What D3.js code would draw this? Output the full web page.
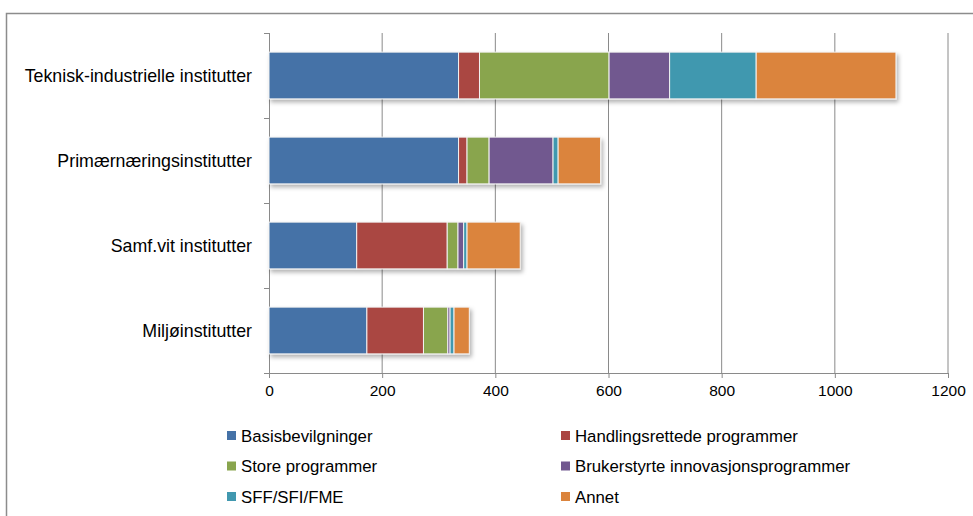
<!DOCTYPE html>
<html>
<head>
<meta charset="utf-8">
<script src="https://cdn.jsdelivr.net/npm/d3@7"></script>
<style>
  body { margin: 0; background: #fff; }
  svg text { font-family: "Liberation Sans", Arial, sans-serif; fill: #000; }
</style>
</head>
<body>
<svg id="chart" width="973" height="516"></svg>
<script>
// categories, top to bottom
const categories = [
  "Teknisk-industrielle institutter",
  "Primærnæringsinstitutter",
  "Samf.vit institutter",
  "Miljøinstitutter"
];

const seriesNames = [
  "Basisbevilgninger",
  "Handlingsrettede programmer",
  "Store programmer",
  "Brukerstyrte innovasjonsprogrammer",
  "SFF/SFI/FME",
  "Annet"
];

// values per series, in category order
const basis   = [335, 335, 155, 173];
const handl   = [37, 15, 160, 100];
const store   = [229, 39, 19, 43];
const bruker  = [107, 113, 10, 4];
const sff     = [153, 9, 6, 7];
const annet   = [247, 75, 94, 27];

const xTicks = [0, 200, 400, 600, 800, 1000, 1200];

const COLORS = ["#4572A7", "#AA4643", "#89A54E", "#71588F", "#4198AF", "#DB843D"];

const seriesValues = [basis, handl, store, bruker, sff, annet];

// table for d3.stack
const table = categories.map((c, i) => {
  const row = { cat: c };
  seriesNames.forEach((s, j) => { row[s] = seriesValues[j][i]; });
  return row;
});

const svg = d3.select("#chart");

// outer frame (cut off on the right and bottom)
svg.append("rect")
  .attr("x", 6.5).attr("y", 13.5)
  .attr("width", 1100).attr("height", 700)
  .attr("fill", "none")
  .attr("stroke", "#8c8c8c")
  .attr("stroke-width", 1.5);

const plot = { left: 269, right: 948, top: 33, bottom: 373 };

const x = d3.scaleLinear()
  .domain([0, 1200])
  .range([plot.left, plot.right]);

const y = d3.scaleBand()
  .domain(categories)
  .range([plot.top, plot.bottom])
  .paddingInner(0.45)
  .paddingOuter(0.225);

// drop shadow
const defs = svg.append("defs");
const f = defs.append("filter").attr("id", "shadow")
  .attr("x", "-5%").attr("y", "-20%").attr("width", "115%").attr("height", "150%");
f.append("feDropShadow")
  .attr("dx", 2).attr("dy", 3)
  .attr("stdDeviation", 2)
  .attr("flood-color", "#000")
  .attr("flood-opacity", 0.3);

// gridlines
svg.append("g")
  .selectAll("line")
  .data(xTicks.slice(1))
  .join("line")
  .attr("x1", d => x(d)).attr("x2", d => x(d))
  .attr("y1", plot.top).attr("y2", plot.bottom)
  .attr("stroke", "#8a8a8a")
  .attr("stroke-width", 1);

// x axis
const xAxis = svg.append("g")
  .attr("transform", `translate(0,${plot.bottom})`)
  .call(d3.axisBottom(x).tickValues(xTicks).tickFormat(d3.format("d"))
    .tickSize(5).tickSizeOuter(0).tickPadding(7));
xAxis.select(".domain").attr("stroke", "#8a8a8a").attr("d", `M${plot.left - 5},0.5H${plot.right}`);
xAxis.selectAll(".tick line").attr("stroke", "#8a8a8a");
xAxis.selectAll(".tick text")
  .style("font-size", "15.5px");

// category axis
const bandEdges = d3.range(categories.length + 1).map(i => plot.top + i * (plot.bottom - plot.top) / categories.length);
svg.append("line")
  .attr("x1", plot.left + 0.5).attr("x2", plot.left + 0.5)
  .attr("y1", plot.top).attr("y2", plot.bottom)
  .attr("stroke", "#8a8a8a");
svg.append("g")
  .selectAll("line")
  .data(bandEdges)
  .join("line")
  .attr("x1", plot.left - 5).attr("x2", plot.left)
  .attr("y1", d => d + 0.5).attr("y2", d => d + 0.5)
  .attr("stroke", "#8a8a8a");

svg.append("g")
  .selectAll("text")
  .data(categories)
  .join("text")
  .attr("x", plot.left - 17)
  .attr("y", d => y(d) + y.bandwidth() / 2)
  .attr("dy", "0.35em")
  .attr("text-anchor", "end")
  .style("font-size", "17.8px")
  .text(d => d);

// stacked bars
const stack = d3.stack().keys(seriesNames);
const stacked = stack(table);

const bars = svg.append("g").attr("filter", "url(#shadow)");
bars.selectAll("g")
  .data(stacked)
  .join("g")
  .attr("fill", (d, i) => COLORS[i])
  .selectAll("rect")
  .data(d => d)
  .join("rect")
  .attr("x", d => x(d[0]))
  .attr("y", d => y(d.data.cat))
  .attr("width", d => x(d[1]) - x(d[0]))
  .attr("height", y.bandwidth())
  .attr("stroke", "#f2f2f2")
  .attr("stroke-width", 1);

// legend
const legend = svg.append("g");
const legendItems = legend.selectAll("g")
  .data(seriesNames)
  .join("g")
  .attr("transform", (d, i) => `translate(${i % 2 === 0 ? 227 : 561},${436 + Math.floor(i / 2) * 30.5})`);

legendItems.append("rect")
  .attr("x", 0).attr("y", -5)
  .attr("width", 9).attr("height", 9)
  .attr("fill", (d, i) => COLORS[i]);

legendItems.append("text")
  .attr("x", 14)
  .attr("y", 0)
  .attr("dy", "0.35em")
  .style("font-size", "16.8px")
  .text(d => d);
</script>
</body>
</html>
